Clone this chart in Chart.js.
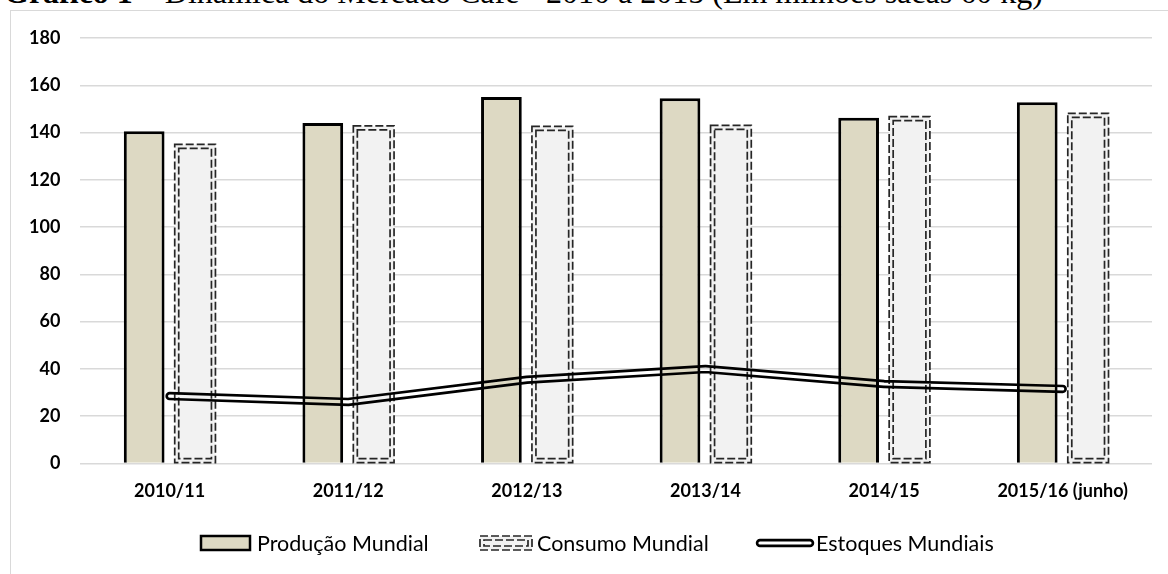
<!DOCTYPE html>
<html>
<head>
<meta charset="utf-8">
<script src="https://cdn.jsdelivr.net/npm/chart.js@4.4.1/dist/chart.umd.min.js"></script>
<style>
  html, body { margin: 0; padding: 0; background: #fff; overflow: hidden; }
  body { width: 1168px; height: 574px; position: relative; }
  #title {
    position: absolute; left: 4px; top: -24px; white-space: nowrap;
    font-family: "Liberation Serif", serif; font-size: 32px; line-height: 32px; color: #000;
  }
  #frame {
    position: absolute; left: 10px; top: 10px; width: 1200px; height: 600px;
    border: 1px solid #d9d9d9; box-sizing: border-box;
  }
  #wrap { position: absolute; left: 0; top: 0; width: 1168px; height: 574px; }
</style>
</head>
<body>
<div id="title"><b>Gráfico 1 –</b> Dinâmica do Mercado Café - 2010 a 2015 (Em milhões sacas 60 kg)</div>
<div id="frame"></div>
<div id="wrap"><canvas id="chart"></canvas></div>
<script>
// safras
const categories = ['2010/11', '2011/12', '2012/13', '2013/14', '2014/15', '2015/16 (junho)'];
// milhões de sacas de 60 kg
const producao = [140.5, 144, 155, 154.5, 146.3, 152.8];
const consumo = [135, 142.8, 142.6, 143, 146.7, 148.1];
const estoques = [28.5, 26, 35.4, 39.9, 33.6, 31.5];
const yTicks = [0, 20, 40, 60, 80, 100, 120, 140, 160, 180];

const seriesNames = ['Produção Mundial', 'Consumo Mundial', 'Estoques Mundiais'];

// double dashed outline for the consumption bars
function dashedRect(ctx, x, y, w, h) {
  ctx.save();
  ctx.strokeStyle = '#262626';
  ctx.lineWidth = 1.7;
  ctx.setLineDash([8, 3]);
  ctx.strokeRect(x, y, w, h);
  ctx.strokeRect(x + 4, y + 4, w - 8, h - 8);
  ctx.restore();
}

// two strokes with a hollow middle
function doubleStroke(chart, pts) {
  const off = document.createElement('canvas');
  off.width = chart.width;
  off.height = chart.height;
  const o = off.getContext('2d');
  o.lineCap = 'round';
  o.lineJoin = 'round';
  o.beginPath();
  pts.forEach((p, i) => i ? o.lineTo(p.x, p.y) : o.moveTo(p.x, p.y));
  o.strokeStyle = '#000';
  o.lineWidth = 8.5;
  o.stroke();
  o.globalCompositeOperation = 'destination-out';
  o.lineWidth = 3.2;
  o.stroke();
  chart.ctx.drawImage(off, 0, 0, chart.width, chart.height);
}

const customDraw = {
  id: 'customDraw',
  afterDatasetDraw(chart, args) {
    const ds = chart.data.datasets[args.index];
    if (ds.label === seriesNames[1]) {
      args.meta.data.forEach(bar => {
        const p = bar.getProps(['x', 'y', 'base', 'width'], true);
        dashedRect(chart.ctx, p.x - p.width / 2, p.y, p.width, p.base - p.y);
      });
    }
    if (ds.label === seriesNames[2]) {
      doubleStroke(chart, args.meta.data.map(pt => pt.getProps(['x', 'y'], true)));
    }
  },
  afterDraw(chart) {
    // legend, Excel style
    const ctx = chart.ctx;
    const cy = 543;
    ctx.save();
    ctx.font = '21.5px Lato';
    ctx.textBaseline = 'middle';
    ctx.fillStyle = '#ddd9c3';
    ctx.fillRect(201, cy - 7, 49, 14);
    ctx.strokeStyle = '#000';
    ctx.lineWidth = 2.5;
    ctx.strokeRect(201, cy - 7, 49, 14);
    ctx.fillStyle = '#000';
    ctx.fillText(seriesNames[0], 257, cy + 1);

    ctx.fillStyle = '#f2f2f2';
    ctx.fillRect(480, cy - 7, 52, 14);
    dashedRect(ctx, 480, cy - 7, 52, 14);
    ctx.fillStyle = '#000';
    ctx.fillText(seriesNames[1], 537, cy + 1);

    doubleStroke(chart, [{ x: 760, y: cy }, { x: 810, y: cy }]);
    ctx.fillText(seriesNames[2], 816, cy + 1);
    ctx.restore();
  }
};

new Chart(document.getElementById('chart'), {
  type: 'bar',
  data: {
    labels: categories,
    datasets: [
      {
        type: 'line',
        label: seriesNames[2],
        data: estoques,
        order: 0,
        borderColor: 'rgba(0,0,0,0)',
        borderWidth: 0,
        pointRadius: 0,
        tension: 0
      },
      {
        label: seriesNames[0],
        data: producao,
        order: 1,
        backgroundColor: '#ddd9c3',
        borderColor: '#000',
        borderWidth: 3,
        categoryPercentage: 0.57,
        barPercentage: 0.8
      },
      {
        label: seriesNames[1],
        data: consumo,
        order: 2,
        backgroundColor: '#f2f2f2',
        borderWidth: 0,
        categoryPercentage: 0.57,
        barPercentage: 0.8
      }
    ]
  },
  options: {
    responsive: true,
    maintainAspectRatio: false,
    animation: false,
    layout: { padding: { left: 9, right: 16, top: 38, bottom: 55 } },
    plugins: {
      legend: { display: false },
      tooltip: { enabled: false }
    },
    scales: {
      x: {
        offset: true,
        grid: { display: false, drawTicks: false },
        border: { display: false },
        ticks: {
          padding: 17,
          color: '#000',
          font: { family: 'Lato', size: 18, weight: 'bold' },
          maxRotation: 0
        }
      },
      y: {
        min: 0,
        max: 180,
        afterBuildTicks: axis => { axis.ticks = yTicks.map(v => ({ value: v })); },
        grid: { color: '#d9d9d9', lineWidth: 1.5, drawTicks: false },
        border: { display: false },
        ticks: {
          padding: 20,
          color: '#000',
          font: { family: 'Lato', size: 18, weight: 'bold' }
        }
      }
    }
  },
  plugins: [customDraw]
});
</script>
</body>
</html>
